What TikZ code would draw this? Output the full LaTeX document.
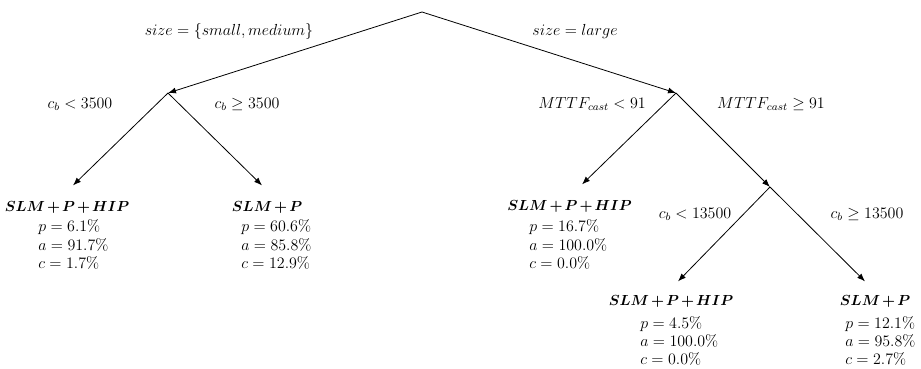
\documentclass[tikz,border=0pt]{standalone}
\usepackage{amsmath,bm}
\usetikzlibrary{arrows.meta}
\newcommand{\leafttl}[1]{$\medmuskip=2.5mu\relax\boldsymbol{#1}$}
\begin{document}
\begin{tikzpicture}[x=0.75pt,y=-0.75pt,
  every node/.style={font=\fontsize{12}{14}\selectfont, inner sep=0pt},
  edge/.style={line width=0.6pt},
  arr/.style={edge,-{Latex[length=6pt,width=4.5pt]}},
  lbl/.style={anchor=base},
  titlefont/.style={font=\fontsize{10.5}{12}\selectfont},
  leaftitle/.style={titlefont, anchor=base, inner xsep=0pt, inner ysep=11.5pt},
  leaftitlelow/.style={titlefont, anchor=base, inner xsep=0pt, inner ysep=10pt},
  stat/.style={anchor=base west}]
\useasboundingbox (0,0) rectangle (921,368);
% decision points
\coordinate (root) at (422,12);
\coordinate (n1) at (168,93);
\coordinate (n2) at (676,93);
\coordinate (n3) at (770,187);
% edge labels
\node[lbl] (e1) at (229,35) {$size = \{small, medium\}$};
\node[lbl] (e2) at (575,35) {$size = large$};
\node[lbl] (e3) at (80,108) {$c_b < 3500$};
\node[lbl] (e4) at (247,108) {$c_b \geq 3500$};
\node[lbl] (e5) at (592,108) {$MTTF_{cast} < 91$};
\node[lbl] (e6) at (771,108) {$MTTF_{cast} \geq 91$};
\node[lbl] (e7) at (695,218) {$c_b < 13500$};
\node[lbl] (e8) at (867,218) {$c_b \geq 13500$};
% leaves
\node[leaftitle] (l1) at (67,211) {\leafttl{SLM + P + HIP}};
\node[stat] (l1p) at (38,231) {$p = 6.1\%$};
\node[stat] (l1a) at (38,250) {$a = 91.7\%$};
\node[stat] (l1c) at (38,268.5) {$c = 1.7\%$};
\node[leaftitle] (l2) at (267,211) {\leafttl{SLM + P}};
\node[stat] (l2p) at (241,231) {$p = 60.6\%$};
\node[stat] (l2a) at (241,250) {$a = 85.8\%$};
\node[stat] (l2c) at (241,268.5) {$c = 12.9\%$};
\node[leaftitle] (l3) at (569.5,210) {\leafttl{SLM + P + HIP}};
\node[stat] (l3p) at (529,231) {$p = 16.7\%$};
\node[stat] (l3a) at (529,250) {$a = 100.0\%$};
\node[stat] (l3c) at (529,268.5) {$c = 0.0\%$};
\node[leaftitlelow] (l4) at (671,305) {\leafttl{SLM + P + HIP}};
\node[stat] (l4p) at (640,328) {$p = 4.5\%$};
\node[stat] (l4a) at (640,346.5) {$a = 100.0\%$};
\node[stat] (l4c) at (640,364.5) {$c = 0.0\%$};
\node[leaftitlelow] (l5) at (875,305) {\leafttl{SLM + P}};
\node[stat] (l5p) at (845,328) {$p = 12.1\%$};
\node[stat] (l5a) at (845,346.5) {$a = 95.8\%$};
\node[stat] (l5c) at (845,364.5) {$c = 2.7\%$};
% connectors
\draw[arr] (root) -- (n1);
\draw[arr] (root) -- (n2);
\draw[arr] (n1) -- ([xshift=4.5pt]l1.north);
\draw[arr] (n1) -- ([xshift=-3.75pt]l2.north);
\draw[arr] (n2) -- ([xshift=9.4pt]l3.north);
\draw[arr] (n2) -- (n3);
\draw[arr] (n3) -- ([xshift=5.25pt]l4.north);
\draw[arr] (n3) -- ([xshift=-7.5pt]l5.north);
\end{tikzpicture}
\end{document}
